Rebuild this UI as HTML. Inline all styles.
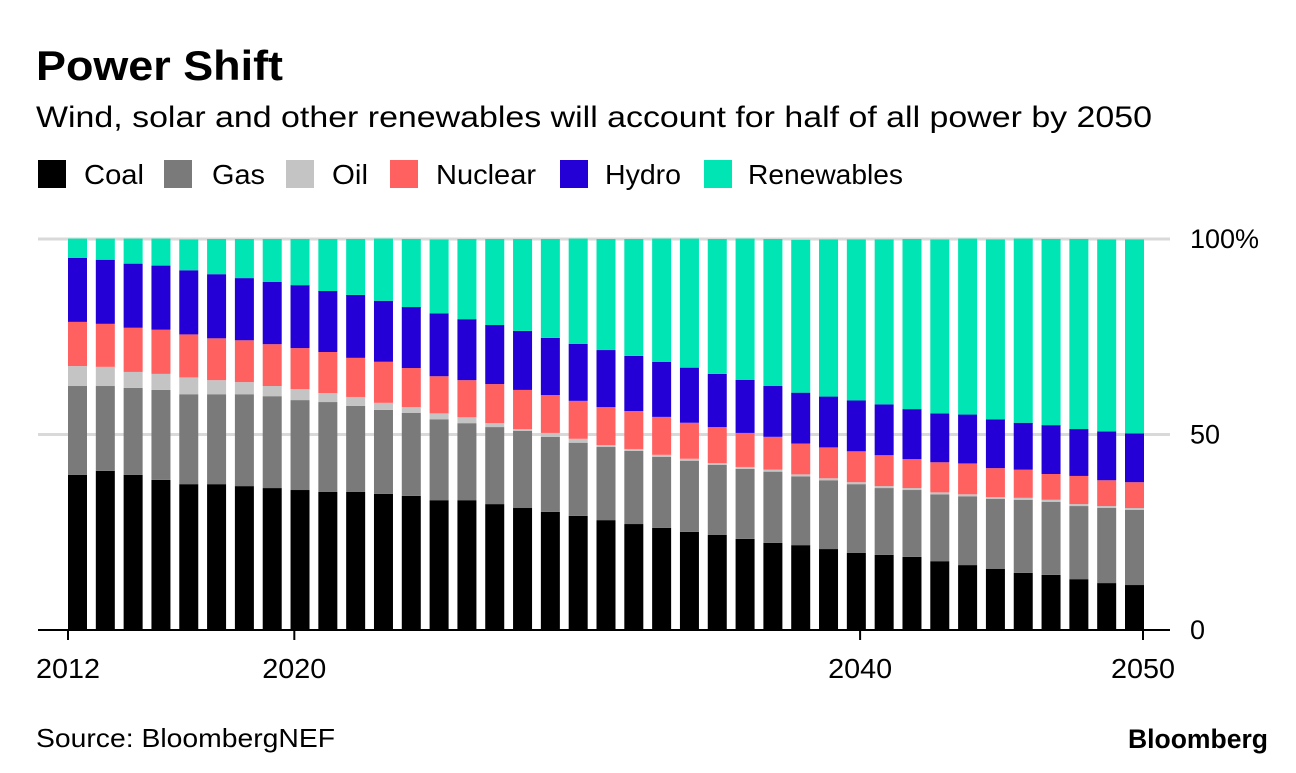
<!DOCTYPE html>
<html><head><meta charset="utf-8"><style>
body{margin:0;background:#fff;width:1296px;height:768px;overflow:hidden;font-family:"Liberation Sans",Arial,sans-serif;}
svg text{font-family:"Liberation Sans",Arial,sans-serif;}
</style></head><body>
<svg id="chart" width="1296" height="768">
<text x="36" y="80" font-size="42" font-weight="bold" fill="#000" textLength="247" lengthAdjust="spacingAndGlyphs">Power Shift</text>
<text x="36" y="127" font-size="30" fill="#000" textLength="1116" lengthAdjust="spacingAndGlyphs">Wind, solar and other renewables will account for half of all power by 2050</text>
<g id="legend"></g>
<g id="grid"></g>
<g id="bars"></g>
<g id="axes"></g>
<text x="36" y="747" font-size="26" fill="#000" textLength="299" lengthAdjust="spacingAndGlyphs">Source: BloombergNEF</text>
<text x="1268" y="748" font-size="27" font-weight="bold" fill="#000" text-anchor="end" textLength="140" lengthAdjust="spacingAndGlyphs">Bloomberg</text>
</svg>
<script>
const years = [];
for (let y = 2012; y <= 2050; y++) years.push(y);
const coal = [39.7,40.7,39.7,38.4,37.3,37.3,36.8,36.3,35.8,35.3,35.3,34.8,34.3,33.2,33.2,32.2,31.2,30.2,29.2,28.1,27.1,26.1,25.1,24.3,23.3,22.3,21.7,20.7,19.7,19.2,18.7,17.6,16.6,15.6,14.6,14.1,13.0,12.0,11.5];
const gas = [22.7,21.7,22.2,23.0,23.0,23.0,23.5,23.5,23.0,23.0,22.0,21.5,21.2,20.7,19.7,19.7,19.7,19.2,18.7,18.7,18.7,18.2,18.2,17.9,17.9,18.2,17.6,17.6,17.6,17.1,17.1,17.1,17.6,17.9,18.7,18.7,18.7,19.2,19.2];
const oil = [5.1,4.9,4.1,4.1,4.3,3.6,3.1,2.6,2.8,2.3,2.3,1.8,1.5,1.5,1.5,1.0,0.5,1.0,1.0,0.5,0.5,0.5,0.5,0.5,0.5,0.5,0.5,0.5,0.5,0.5,0.5,0.5,0.5,0.5,0.5,0.5,0.5,0.5,0.5];
const nuclear = [11.3,11.0,11.3,11.3,11.0,10.7,10.7,10.7,10.5,10.5,10.0,10.5,10.0,9.5,9.5,10.0,10.0,9.7,9.7,9.7,9.7,9.7,9.2,9.2,8.7,8.4,7.9,7.9,7.9,7.9,7.4,7.7,7.9,7.4,7.2,6.6,7.2,6.6,6.6];
const hydro = [16.4,16.4,16.4,16.4,16.4,16.4,15.9,15.9,16.1,15.6,16.1,15.6,15.6,16.1,15.6,15.1,15.1,14.6,14.6,14.6,14.1,14.1,14.1,13.6,13.6,13.0,13.0,13.0,13.0,13.0,12.8,12.5,12.5,12.5,12.0,12.5,12.0,12.5,12.5];
const renewables = [4.9,5.4,6.4,6.9,7.9,9.0,10.0,11.0,11.8,13.3,14.3,15.9,17.4,18.9,20.5,22.0,23.5,25.3,26.9,28.4,29.9,31.5,33.0,34.5,36.1,37.6,39.1,40.2,41.2,42.2,43.5,44.5,45.0,46.0,47.1,47.6,48.6,49.1,49.6];
const seriesNames = ["Coal","Gas","Oil","Nuclear","Hydro","Renewables"];
const yTicks = [0,50,100];
const yTickLabels = ["0","50","100%"];
const xTicks = [2012,2020,2040,2050];

const NS = "http://www.w3.org/2000/svg";
const colors = ["#000000","#7a7a7a","#c4c4c4","#ff6060","#2400d6","#00e5b4"];
const series = [coal,gas,oil,nuclear,hydro,renewables];
function mk(tag, attrs, parent){const e=document.createElementNS(NS,tag);for(const k in attrs)e.setAttribute(k,attrs[k]);parent.appendChild(e);return e;}
const y0=630, y1=239;
function yScale(v){return y0-(v/100)*(y0-y1);}
const barLeft0=68, barStep=(1144-68-19)/(years.length-1), barW=19;
function xBar(i){return barLeft0+i*barStep;}
function xTick(yr){return 68+(yr-2012)*(1143-68)/38;}

// legend
const lg=document.getElementById('legend');
const legX=[38,164,286,390,560,704];
const legTX=[84,212,332,436,605,748];
const legTW=[60,53,36,100,76,155];
seriesNames.forEach((n,i)=>{
  const g=mk('g',{},lg);
  
  
  mk('rect',{x:legX[i],y:160,width:28,height:28,fill:colors[i]},g);
  const t=mk('text',{x:legTX[i],y:184,'font-size':28,fill:'#000',textLength:legTW[i],lengthAdjust:'spacingAndGlyphs'},g);
  t.textContent=n;
});

// grid
const gr=document.getElementById('grid');
yTicks.forEach((v,i)=>{
  if(v>0){
    const l=mk('line',{x1:38,x2:1170,y1:yScale(v),y2:yScale(v),stroke:'#d9d9d9','stroke-width':3},gr);
    
    
  }
  const t=mk('text',{x:1190,y:yScale(v)+9,'font-size':27,fill:'#000'},gr);
  
  
  t.textContent=yTickLabels[i];
});

// bars
const bg=document.getElementById('bars');
years.forEach((yr,i)=>{
  let cum=0;
  series.forEach((s,si)=>{
    const v=s[i];
    const top=yScale(cum+v), bot=yScale(cum);
    const r=mk('rect',{x:xBar(i),y:top,width:barW,height:Math.max(0,bot-top),fill:colors[si]},bg);
    
    
    cum+=v;
  });
});

// axes
const ax=document.getElementById('axes');
const base=mk('line',{x1:38,x2:1170,y1:y0,y2:y0,stroke:'#000','stroke-width':2},ax);


xTicks.forEach(yr=>{
  const x=xTick(yr);
  const l=mk('line',{x1:x,x2:x,y1:y0,y2:y0+10,stroke:'#000','stroke-width':2},ax);
  
  
  const t=mk('text',{x:x,y:678,'font-size':28,fill:'#000','text-anchor':'middle',textLength:64,lengthAdjust:'spacingAndGlyphs'},ax);
  
  
  t.textContent=String(yr);
});
</script>
</body></html>
